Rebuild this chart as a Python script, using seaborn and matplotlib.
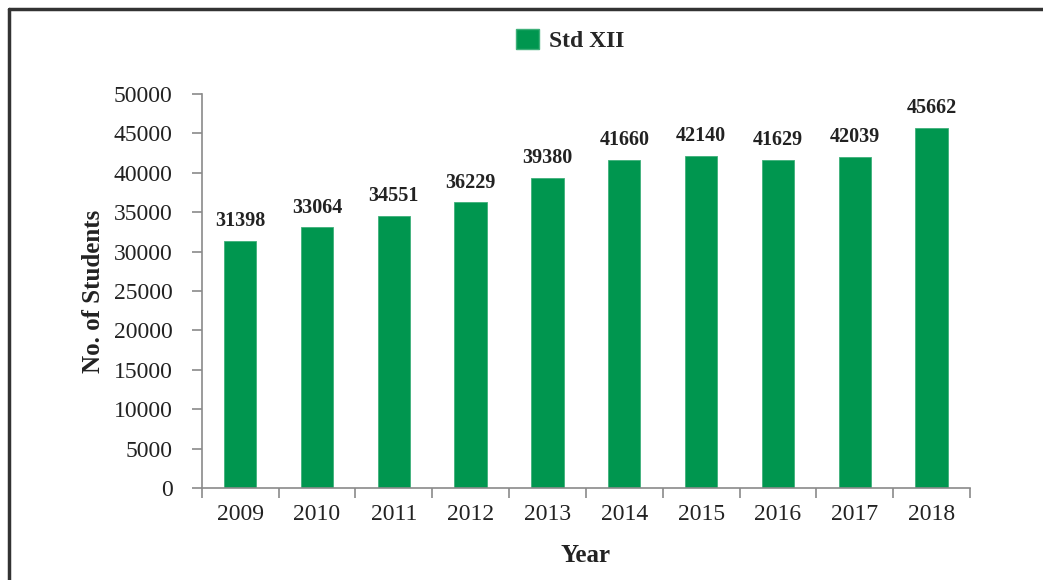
import numpy as np
import pandas as pd
import matplotlib.pyplot as plt
import seaborn as sns
from matplotlib.lines import Line2D
from matplotlib.patches import Patch

# --- dados ---
years = ["2009", "2010", "2011", "2012", "2013", "2014", "2015", "2016", "2017", "2018"]
students = [31398, 33064, 34551, 36229, 39380, 41660, 42140, 41629, 42039, 45662]
series_name = "Std XII"

BAR_COLOR = "#00964F"
SPINE_COLOR = "#8a8a8a"

def main():
    sns.set_theme(style="white")
    plt.rcParams["font.family"] = ["Liberation Serif", "DejaVu Serif"]

    df = pd.DataFrame({"Year": years, "Students": students})

    fig = plt.figure(figsize=(10.43, 5.80), dpi=100)
    ax = fig.add_axes([0.1934, 0.1581, 0.930 - 0.1934, 0.8384 - 0.1581])

    sns.barplot(data=df, x="Year", y="Students", color=BAR_COLOR, width=0.42,
                saturation=1, ax=ax, edgecolor="#3fb07a", linewidth=0.6)

    ax.bar_label(ax.containers[0], labels=[str(v) for v in students], padding=7,
                 fontsize=14.5, fontweight="bold", color="#222222")

    ax.set_ylim(0, 50000)
    ax.set_yticks(np.arange(0, 50001, 5000))
    ax.set_xlim(-0.5, len(years) - 0.5)

    # ticks nas fronteiras das categorias
    ax.set_xticks(np.arange(-0.5, len(years), 1.0), minor=True)
    ax.tick_params(axis="x", which="major", length=0, pad=11, labelsize=17, labelcolor="#222222")
    ax.tick_params(axis="x", which="minor", length=7, width=1.2, color=SPINE_COLOR, direction="out", bottom=True)
    ax.tick_params(axis="y", which="major", length=7, width=1.2, color=SPINE_COLOR, direction="out",
                   left=True, pad=14, labelsize=17, labelcolor="#222222")

    for side in ["top", "right"]:
        ax.spines[side].set_visible(False)
    for side in ["left", "bottom"]:
        ax.spines[side].set_color(SPINE_COLOR)
        ax.spines[side].set_linewidth(1.2)

    ax.set_xlabel("Year", fontsize=18, fontweight="bold", color="#222222", labelpad=14)
    ax.set_ylabel("No. of Students", fontsize=18, fontweight="bold", color="#222222", labelpad=6)

    handles = [Patch(facecolor=BAR_COLOR, edgecolor="#3fb07a", label=series_name)]
    fig.legend(handles=handles, loc="center", bbox_to_anchor=(0.547, 0.930), frameon=False,
               prop={"size": 17, "weight": "bold"}, handlelength=0.95, handleheight=0.95,
               handletextpad=0.45)

    # moldura (esquerda e topo)
    fig.add_artist(Line2D([9 / 1043, 9 / 1043], [0, 1 - 9 / 580], transform=fig.transFigure,
                          color="#333333", linewidth=2.5))
    fig.add_artist(Line2D([9 / 1043, 1], [1 - 9 / 580, 1 - 9 / 580], transform=fig.transFigure,
                          color="#333333", linewidth=2.5))

    fig.savefig("out.png", dpi=100)

if __name__ == "__main__":
    main()
